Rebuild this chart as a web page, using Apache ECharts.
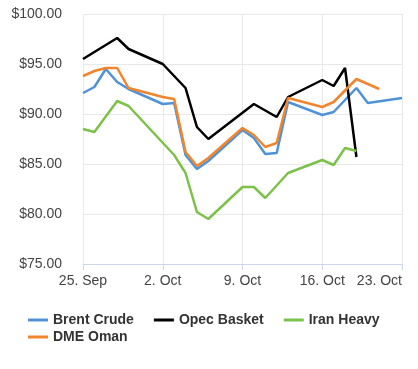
<!DOCTYPE html>
<html><head><meta charset="utf-8">
<script src="https://cdn.jsdelivr.net/npm/echarts@6/dist/echarts.min.js"></script>
<style>html,body{margin:0;padding:0;background:#fff}#c{width:418px;height:369px}</style>
</head><body><div id="c"></div>
<script>
var baseDate = '2023-09-25';
var xTickLabels = ['25. Sep', '2. Oct', '9. Oct', '16. Oct', '23. Oct'];
var yTickLabels = ['$75.00', '$80.00', '$85.00', '$90.00', '$95.00', '$100.00'];

var brentDates = ['2023-09-25','2023-09-26','2023-09-27','2023-09-28','2023-09-29','2023-10-02','2023-10-03','2023-10-04','2023-10-05','2023-10-06','2023-10-09','2023-10-10','2023-10-11','2023-10-12','2023-10-13','2023-10-16','2023-10-17','2023-10-19','2023-10-20','2023-10-23'];
var brentValues = [92.1, 92.7, 94.5, 93.2, 92.5, 91.0, 91.1, 85.9, 84.5, 85.3, 88.4, 87.6, 86.0, 86.1, 91.2, 89.9, 90.2, 92.6, 91.1, 91.6];

var opecDates = ['2023-09-25','2023-09-28','2023-09-29','2023-10-02','2023-10-04','2023-10-05','2023-10-06','2023-10-10','2023-10-12','2023-10-13','2023-10-16','2023-10-17','2023-10-18','2023-10-19'];
var opecValues = [95.5, 97.6, 96.5, 95.0, 92.6, 88.7, 87.5, 91.0, 89.7, 91.7, 93.4, 92.8, 94.6, 85.7];

var iranDates = ['2023-09-25','2023-09-26','2023-09-28','2023-09-29','2023-10-03','2023-10-04','2023-10-05','2023-10-06','2023-10-09','2023-10-10','2023-10-11','2023-10-13','2023-10-16','2023-10-17','2023-10-18','2023-10-19'];
var iranValues = [88.5, 88.2, 91.3, 90.8, 85.9, 84.1, 80.2, 79.5, 82.7, 82.7, 81.6, 84.1, 85.4, 84.9, 86.6, 86.3];

var dmeDates = ['2023-09-25','2023-09-26','2023-09-27','2023-09-28','2023-09-29','2023-10-02','2023-10-03','2023-10-04','2023-10-05','2023-10-06','2023-10-09','2023-10-10','2023-10-11','2023-10-12','2023-10-13','2023-10-16','2023-10-17','2023-10-19','2023-10-21'];
var dmeValues = [93.8, 94.3, 94.6, 94.6, 92.6, 91.7, 91.5, 86.2, 84.8, 85.6, 88.6, 87.9, 86.7, 87.1, 91.6, 90.7, 91.2, 93.5, 92.5];

var DAY = 86400000;
function dayIndex(d){ return Math.round((Date.parse(d + 'T00:00:00Z') - Date.parse(baseDate + 'T00:00:00Z')) / DAY); }
function pairs(dates, vals){ return dates.map(function(d,i){ return [dayIndex(d), vals[i]]; }); }

var chart = echarts.init(document.getElementById('c'), null, {renderer:'canvas'});
var font = 'Liberation Sans, Arial, sans-serif';
function line(name, color, dates, vals){
  return {name:name, type:'line', data:pairs(dates, vals), showSymbol:false, symbol:'none',
    lineStyle:{color:color, width:2.5}, itemStyle:{color:color}, animation:false};
}
var legendText = {fontFamily:font, fontSize:14, fontWeight:'bold', color:'#333'};
chart.setOption({
  animation:false,
  grid:{left:83, right:16, top:14, bottom:105},
  xAxis:{type:'value', min:0, max:28, interval:7,
    axisLine:{show:true, lineStyle:{color:'#ccd6eb', width:1}},
    axisTick:{show:true, length:6, lineStyle:{color:'#ccd6eb'}},
    splitLine:{show:true, lineStyle:{color:'#e8e8e8'}},
    axisLabel:{margin:10, color:'#444', fontFamily:font, fontSize:14, alignMaxLabel:'right',
      formatter:function(v){ return xTickLabels[Math.round(v/7)] || ''; }}},
  yAxis:{type:'value', min:75, max:100, interval:5,
    axisLine:{show:false}, axisTick:{show:false},
    splitLine:{show:true, lineStyle:{color:'#e8e8e8'}},
    axisLabel:{margin:21, color:'#444', fontFamily:font, fontSize:14,
      formatter:function(v){ return yTickLabels[Math.round((v-75)/5)]; }}},
  legend:[
    {data:['Brent Crude','Opec Basket','Iran Heavy'], left:23, top:308, itemGap:20, itemWidth:20, itemHeight:14,
      icon:'path://M0,6 L20,6 L20,9 L0,9 Z', textStyle:legendText},
    {data:['DME Oman'], left:23, top:325, itemGap:20, itemWidth:20, itemHeight:14,
      icon:'path://M0,6 L20,6 L20,9 L0,9 Z', textStyle:legendText}
  ],
  series:[
    line('Brent Crude', '#4f93d6', brentDates, brentValues),
    line('Opec Basket', '#000000', opecDates, opecValues),
    line('Iran Heavy', '#7cc24a', iranDates, iranValues),
    line('DME Oman', '#f0852d', dmeDates, dmeValues)
  ]
});
</script></body></html>
